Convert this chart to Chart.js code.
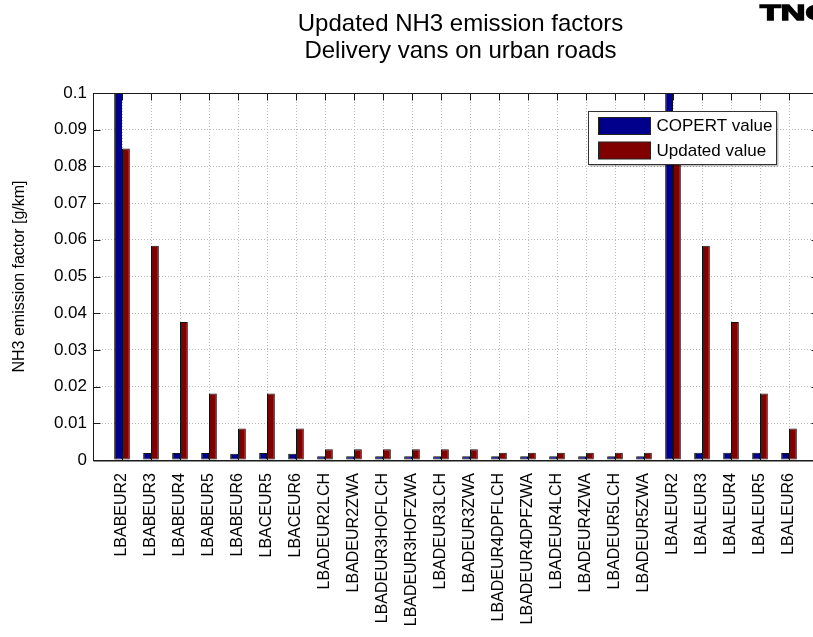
<!DOCTYPE html>
<html>
<head>
<meta charset="utf-8">
<script src="https://cdn.jsdelivr.net/npm/chart.js@4/dist/chart.umd.min.js"></script>
<style>
  html, body { margin: 0; padding: 0; background: #fff; overflow: hidden; width: 813px; height: 637px; }
  canvas { display: block; }
</style>
</head>
<body>
<canvas id="c" width="830" height="637"></canvas>
<script>
// Vehicle categories on the x axis
const categories = [
  'LBABEUR2', 'LBABEUR3', 'LBABEUR4', 'LBABEUR5', 'LBABEUR6',
  'LBACEUR5', 'LBACEUR6',
  'LBADEUR2LCH', 'LBADEUR2ZWA', 'LBADEUR3HOFLCH', 'LBADEUR3HOFZWA',
  'LBADEUR3LCH', 'LBADEUR3ZWA', 'LBADEUR4DPFLCH', 'LBADEUR4DPFZWA',
  'LBADEUR4LCH', 'LBADEUR4ZWA', 'LBADEUR5LCH', 'LBADEUR5ZWA',
  'LBALEUR2', 'LBALEUR3', 'LBALEUR4', 'LBALEUR5', 'LBALEUR6'
];

// NH3 emission factors [g/km]
const copertValues = [
  0.12, 0.0019, 0.0019, 0.0019, 0.0017,
  0.0019, 0.0017,
  0.001, 0.001, 0.001, 0.001,
  0.001, 0.001, 0.001, 0.001,
  0.001, 0.001, 0.001, 0.001,
  0.12, 0.002, 0.002, 0.002, 0.0019
];
const updatedValues = [
  0.0849, 0.0584, 0.0376, 0.0181, 0.0086,
  0.0181, 0.0086,
  0.0029, 0.0029, 0.0029, 0.0029,
  0.0029, 0.0029, 0.002, 0.002,
  0.002, 0.002, 0.002, 0.002,
  0.0849, 0.0584, 0.0376, 0.0181, 0.0086
];

const seriesNames = ['COPERT value', 'Updated value'];
const titleLines = ['Updated NH3 emission factors', 'Delivery vans on urban roads'];
const yAxisTitle = 'NH3 emission factor [g/km]';
const yMin = 0, yMax = 0.1, yStep = 0.01;

const FONT = "'Liberation Sans', Arial, Helvetica, sans-serif";
const COLORS = ['#00008c', '#800000'];

// Position each group at 1..N on a linear axis running 0..N+1
const toPoints = vals => vals.map((v, i) => ({ x: i + 1, y: v }));

// Boxed axes with inward tick marks on all four sides
const axesFrame = {
  id: 'axesFrame',
  afterDatasetsDraw(chart) {
    const { ctx, chartArea: a, scales: { x, y } } = chart;
    const L = Math.round(a.left) + 0.5, R = Math.round(a.right) + 0.5;
    const T = Math.round(a.top) + 0.5, B = Math.round(a.bottom) + 0.5;
    const len = 7;
    ctx.save();
    ctx.strokeStyle = '#1a1a1a';
    ctx.lineWidth = 1;
    ctx.beginPath();
    y.ticks.forEach(t => {
      const py = Math.round(y.getPixelForValue(t.value)) + 0.5;
      ctx.moveTo(L, py); ctx.lineTo(L + len, py);
      ctx.moveTo(R, py); ctx.lineTo(R - len, py);
    });
    x.ticks.forEach(t => {
      const px = Math.round(x.getPixelForValue(t.value)) + 0.5;
      ctx.moveTo(px, T); ctx.lineTo(px, T + len);
      ctx.moveTo(px, B); ctx.lineTo(px, B - len);
    });
    ctx.stroke();
    ctx.strokeRect(L, T, R - L, B - T);
    ctx.beginPath();
    ctx.moveTo(L, B + 0.5); ctx.lineTo(R, B + 0.5);
    ctx.stroke();
    ctx.restore();
  }
};

// Two-line title centred over the axes, plus the corner logo
const headerText = {
  id: 'headerText',
  afterDraw(chart) {
    const { ctx, chartArea: a } = chart;
    const cx = (a.left + a.right) / 2 + 5;
    ctx.save();
    ctx.fillStyle = '#000';
    ctx.textAlign = 'center';
    ctx.textBaseline = 'alphabetic';
    ctx.font = '24px ' + FONT;
    ctx.fillText(titleLines[0], cx, 31);
    ctx.fillText(titleLines[1], cx, 58);

    ctx.translate(760, 20);
    ctx.scale(1.55, 1);
    ctx.textAlign = 'left';
    ctx.font = 'bold 22px ' + FONT;
    ctx.lineWidth = 1.4;
    ctx.strokeStyle = '#000';
    ctx.fillText('TNO', 0, 0);
    ctx.strokeText('TNO', 0, 0);
    ctx.restore();
  }
};

// Legend box inside the upper-right of the axes
const boxLegend = {
  id: 'boxLegend',
  afterDraw(chart) {
    const { ctx, chartArea: a } = chart;
    const w = 188, h = 53;
    const bx = Math.round(a.right - 42 - w) + 0.5, by = Math.round(a.top + 18) + 0.5;
    ctx.save();
    ctx.fillStyle = 'rgba(0,0,0,0.25)';
    ctx.fillRect(bx + 1, by + 1, w + 1, h + 1);
    ctx.fillStyle = '#fff';
    ctx.fillRect(bx, by, w, h);
    ctx.strokeStyle = '#333';
    ctx.lineWidth = 1;
    ctx.strokeRect(bx, by, w, h);
    ctx.font = '17px ' + FONT;
    ctx.textBaseline = 'middle';
    chart.data.datasets.forEach((ds, i) => {
      const sy = by + 6 + i * 24.5;
      ctx.fillStyle = ds.backgroundColor;
      ctx.fillRect(bx + 10, sy, 52, 17);
      ctx.strokeStyle = '#222';
      ctx.strokeRect(bx + 10, sy, 52, 17);
      ctx.fillStyle = '#000';
      ctx.fillText(ds.label, bx + 68, sy + 9);
    });
    ctx.restore();
  }
};

const fmtTick = v => String(Number(v.toFixed(2)));

new Chart(document.getElementById('c'), {
  type: 'bar',
  data: {
    datasets: [
      { label: seriesNames[0], data: toPoints(copertValues), backgroundColor: COLORS[0] },
      { label: seriesNames[1], data: toPoints(updatedValues), backgroundColor: COLORS[1] }
    ]
  },
  options: {
    responsive: false,
    animation: false,
    devicePixelRatio: 1,
    layout: { padding: { top: 93, right: 12, left: 0, bottom: 0 } },
    datasets: {
      bar: {
        borderColor: '#111',
        borderWidth: 1,
        borderSkipped: false,
        categoryPercentage: 0.54,
        barPercentage: 1
      }
    },
    plugins: {
      legend: { display: false },
      title: { display: false },
      tooltip: { enabled: false }
    },
    scales: {
      x: {
        type: 'linear',
        offset: false,
        min: 0,
        max: categories.length + 1,
        afterBuildTicks: s => { s.ticks = categories.map((_, i) => ({ value: i + 1 })); },
        afterFit: s => { s.height = 177; },
        grid: { color: '#b8b8b8', drawTicks: false, offset: false },
        border: { display: false, dash: [1, 2] },
        ticks: {
          autoSkip: false,
          minRotation: 90,
          maxRotation: 90,
          padding: 13,
          color: '#000',
          font: { family: FONT, size: 16 },
          callback: v => categories[Math.round(v) - 1] ?? ''
        }
      },
      y: {
        min: yMin,
        max: yMax,
        afterFit: s => { s.width = 93; },
        grid: { color: '#b8b8b8', drawTicks: false },
        border: { display: false, dash: [1, 2] },
        ticks: {
          stepSize: yStep,
          padding: 6,
          color: '#000',
          font: { family: FONT, size: 17 },
          callback: fmtTick
        },
        title: {
          display: true,
          text: yAxisTitle,
          color: '#000',
          font: { family: FONT, size: 16 },
          padding: { top: 10, bottom: 0 }
        }
      }
    }
  },
  plugins: [axesFrame, headerText, boxLegend]
});
</script>
</body>
</html>
